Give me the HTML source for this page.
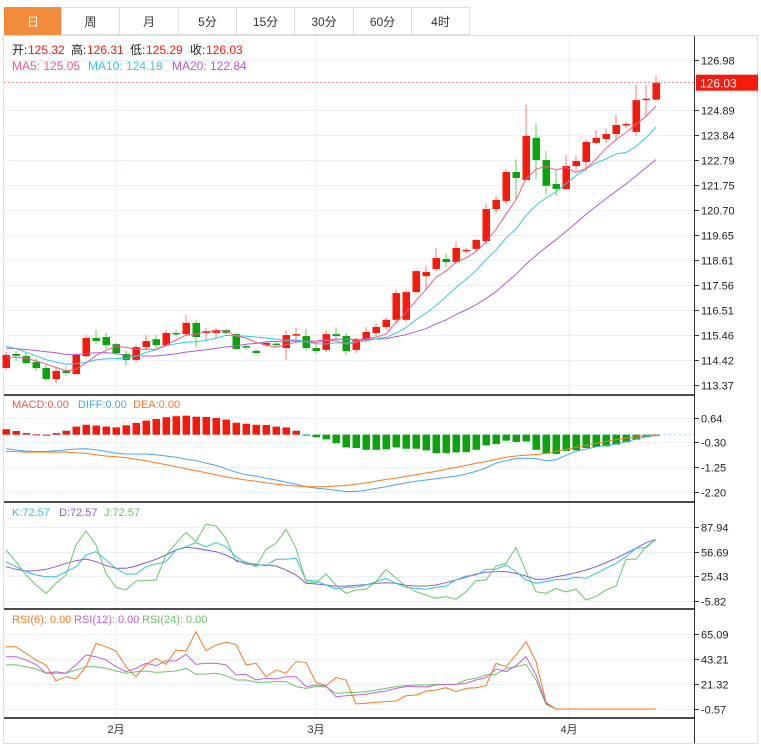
<!DOCTYPE html>
<html><head><meta charset="utf-8"><style>
body{margin:0;background:#fff;font-family:"Liberation Sans","Noto Sans CJK SC",sans-serif;}
#wrap{position:relative;width:761px;height:752px;overflow:hidden;}
.tab{position:absolute;top:7px;height:28px;line-height:28px;text-align:center;font-size:12px;color:#333;border:1px solid #ddd;box-sizing:border-box;background:#fff;}
.tab.on{background:#f28b3c;color:#fff;border-color:#f28b3c;}
svg text{font-family:"Liberation Sans","Noto Sans CJK SC",sans-serif;}
</style></head><body>
<div id="wrap">
<div class="tab on" style="left:4px;width:58px">日</div>
<div class="tab" style="left:61px;width:59px">周</div>
<div class="tab" style="left:119px;width:60px">月</div>
<div class="tab" style="left:178px;width:59px">5分</div>
<div class="tab" style="left:236px;width:59px">15分</div>
<div class="tab" style="left:294px;width:60px">30分</div>
<div class="tab" style="left:353px;width:59px">60分</div>
<div class="tab" style="left:411px;width:59px">4时</div>
<svg id="chart" width="761" height="752" style="position:absolute;left:0;top:0"></svg>
</div>
<script>
const opens=[114.08,114.67,114.58,114.33,114.08,113.62,113.96,113.83,114.58,115.34,115.38,115.08,114.67,114.42,114.96,115.29,115.04,115.55,115.50,115.97,115.55,115.55,115.67,115.50,115.00,114.80,115.04,115.10,114.92,115.46,115.42,114.92,114.84,115.50,115.42,114.84,115.25,115.55,115.80,116.10,116.10,117.26,117.93,118.23,118.65,118.52,118.98,119.07,119.40,120.74,121.08,122.29,121.96,123.72,122.79,121.79,121.58,122.54,122.71,123.51,123.67,123.88,124.26,123.97,125.32,125.32];
const closes=[114.63,114.59,114.29,114.08,113.62,113.96,113.87,114.63,115.34,115.21,115.04,114.71,114.42,114.96,115.21,115.04,115.55,115.50,115.97,115.38,115.63,115.67,115.55,114.88,114.96,114.71,115.13,115.04,115.46,115.50,114.92,114.79,115.50,115.42,114.79,115.25,115.59,115.80,116.10,117.22,117.26,118.14,118.10,118.69,118.52,119.11,119.03,119.44,120.74,121.12,122.29,122.04,123.80,122.79,121.71,121.58,122.54,122.75,123.55,123.72,123.88,124.26,124.30,125.30,125.36,126.03];
const highs=[114.75,114.80,114.75,114.50,114.20,114.08,114.15,114.70,115.46,115.67,115.55,115.13,114.80,115.04,115.46,115.46,115.67,115.67,116.30,116.10,115.76,115.76,115.72,115.55,115.10,114.85,115.20,115.15,115.67,115.76,115.72,115.10,115.67,115.80,115.55,115.34,115.80,115.97,116.18,117.35,117.35,118.18,118.35,119.11,118.85,119.35,119.10,119.50,120.98,121.30,122.39,122.82,125.11,124.30,123.17,122.37,123.00,123.00,123.63,124.05,124.10,124.68,124.40,125.93,125.93,126.31];
const lows=[114.00,114.38,114.20,113.95,113.55,113.45,113.75,113.80,114.50,115.08,114.88,114.63,114.17,114.33,114.84,114.92,114.96,115.42,115.46,114.96,115.25,115.30,115.50,114.84,114.85,114.67,114.95,114.95,114.42,115.20,114.80,114.67,114.75,115.30,114.63,114.71,115.13,115.40,115.70,116.00,116.00,117.20,117.35,118.14,118.30,118.44,118.90,119.00,119.25,120.57,120.94,121.12,121.96,122.00,121.33,121.29,121.54,122.33,122.33,123.47,123.51,123.63,124.10,123.80,124.60,125.29];
const priorCloses=[115.0,115.2,114.8,114.6,114.9,115.3,114.7,114.4,114.6,114.9,115.6,115.8,115.5,115.3,115.0,114.7,114.5,114.6,114.3];
const priceTicks=["126.98","124.89","123.84","122.79","121.75","120.70","119.65","118.61","117.56","116.51","115.46","114.42","113.37"];
const macdHist=[0.21,0.14,0.06,0.01,0,0.06,0.15,0.31,0.38,0.35,0.31,0.28,0.36,0.45,0.54,0.60,0.67,0.71,0.73,0.69,0.68,0.64,0.58,0.46,0.42,0.38,0.37,0.31,0.28,0.15,-0.01,-0.10,-0.18,-0.33,-0.49,-0.51,-0.58,-0.58,-0.56,-0.49,-0.54,-0.54,-0.60,-0.71,-0.71,-0.68,-0.67,-0.58,-0.41,-0.36,-0.23,-0.28,-0.26,-0.58,-0.73,-0.74,-0.62,-0.60,-0.51,-0.47,-0.45,-0.38,-0.29,-0.19,-0.10,-0.01];
const diffVals=[-0.54,-0.59,-0.63,-0.64,-0.64,-0.62,-0.59,-0.55,-0.54,-0.58,-0.64,-0.71,-0.74,-0.74,-0.74,-0.77,-0.82,-0.87,-0.94,-1.00,-1.09,-1.18,-1.31,-1.44,-1.54,-1.59,-1.67,-1.74,-1.82,-1.90,-2.00,-2.05,-2.09,-2.13,-2.18,-2.18,-2.13,-2.06,-2.00,-1.92,-1.85,-1.79,-1.74,-1.69,-1.64,-1.59,-1.51,-1.41,-1.28,-1.09,-1.00,-0.92,-0.90,-0.92,-1.00,-0.96,-0.79,-0.64,-0.55,-0.47,-0.41,-0.36,-0.26,-0.17,-0.08,-0.03];
const deaVals=[-0.64,-0.65,-0.67,-0.67,-0.67,-0.67,-0.67,-0.69,-0.72,-0.77,-0.82,-0.85,-0.88,-0.94,-1.00,-1.08,-1.15,-1.23,-1.31,-1.38,-1.46,-1.54,-1.62,-1.68,-1.74,-1.79,-1.85,-1.90,-1.94,-1.97,-2.00,-2.00,-2.00,-1.97,-1.95,-1.90,-1.85,-1.78,-1.72,-1.67,-1.60,-1.54,-1.47,-1.41,-1.33,-1.26,-1.18,-1.10,-1.03,-0.95,-0.87,-0.82,-0.79,-0.76,-0.72,-0.64,-0.56,-0.49,-0.41,-0.33,-0.26,-0.19,-0.13,-0.08,-0.03,0.00];
const macdTicks=["0.64","-0.30","-1.25","-2.20"];
const kVals=[44.0,37.7,31.4,27.1,25.0,25.0,31.4,37.7,52.5,56.7,46.1,35.6,28.4,28.4,37.7,41.1,44.0,58.8,63.0,68.1,63.0,68.1,63.0,50.4,41.9,41.1,38.5,47.0,47.0,48.3,20.8,19.5,14.5,9.4,11.5,11.5,14.5,18.7,22.9,16.6,11.5,10.2,9.0,11.5,13.2,20.8,25.9,27.1,34.3,34.3,39.8,31.4,20.8,16.6,18.7,21.6,21.6,24.2,22.9,29.2,35.6,41.9,50.4,60.9,61.8,72.3];
const dVals=[37.7,34.3,32.2,32.6,34.3,37.7,42.0,45.3,47.4,44.0,39.0,35.6,35.6,38.5,42.8,47.0,52.5,58.8,62.2,60.9,58.8,56.7,52.5,46.1,41.1,39.8,39.8,38.5,33.5,27.1,16.6,15.7,14.5,12.8,13.2,14.0,14.9,16.6,17.4,16.6,14.0,13.2,13.2,14.5,17.4,20.8,24.2,28.4,30.5,31.4,31.4,29.2,25.9,21.6,22.1,25.0,27.1,30.1,33.5,37.7,42.8,48.3,54.6,60.9,68.1,72.3];
const jVals=[58.8,44.0,27.1,14.5,3.9,16.6,27.1,65.1,82.9,65.1,29.2,11.5,8.1,19.5,20.0,20.8,52.5,67.3,81.2,69.4,91.7,89.2,73.6,44.0,44.0,37.7,59.6,67.3,85.0,60.9,18.7,17.4,28.4,14.5,3.9,8.1,9.0,18.7,34.3,22.9,13.2,6.0,1.8,-2.4,-0.3,-3.7,6.0,20.0,20.8,38.5,41.9,61.8,31.4,6.0,3.9,10.2,5.6,9.4,-4.5,-0.3,8.1,13.2,47.0,47.0,63.0,72.3];
const kdjTicks=["87.94","56.69","25.43","-5.82"];
const rsi6=[54.0,54.0,48.2,42.3,38.0,24.0,27.7,25.7,36.5,56.9,54.0,50.2,36.5,27.7,38.0,43.8,38.5,51.1,50.2,67.1,50.5,55.5,57.8,56.0,38.0,39.4,27.7,33.6,30.7,40.9,40.3,22.8,19.9,26.9,24.8,3.8,4.4,5.3,5.9,6.4,11.1,11.7,15.2,16.1,18.1,14.6,17.5,18.1,19.9,39.4,36.5,46.7,58.4,40.9,5.3,-0.6,-0.6,-0.6,-0.6,-0.6,-0.6,-0.6,-0.6,-0.6,-0.6,-0.6];
const rsi12=[45.2,45.2,42.3,38.5,30.7,32.1,30.7,38.0,46.7,45.2,42.3,36.5,32.1,35.0,39.4,37.4,41.5,41.5,47.3,38.5,39.4,39.4,38.0,29.2,29.8,24.8,26.3,25.7,27.7,27.7,19.0,20.4,19.6,10.2,11.1,11.7,12.3,14.0,15.2,17.5,19.0,19.0,18.7,20.4,21.0,21.0,21.9,24.8,26.9,34.5,32.1,37.4,45.2,29.2,4.4,-0.6,-0.6,-0.6,-0.6,-0.6,-0.6,-0.6,-0.6,-0.6,-0.6,-0.6];
const rsi24=[38.0,38.0,36.5,34.5,30.7,30.7,30.7,33.6,36.5,36.5,35.0,32.7,30.7,32.1,32.7,31.5,32.1,32.7,35.0,29.8,30.1,30.7,28.6,24.8,24.8,22.8,22.8,23.4,23.4,19.0,17.5,19.0,18.7,13.1,13.7,14.0,14.6,16.1,17.5,19.0,19.9,20.4,20.4,21.0,21.0,21.0,24.8,26.3,29.2,29.8,35.0,36.5,38.5,24.8,3.5,-0.6,-0.6,-0.6,-0.6,-0.6,-0.6,-0.6,-0.6,-0.6,-0.6,-0.6];
const rsiTicks=["65.09","43.21","21.32","-0.57"];
const monthLabels=["2月","3月","4月"];
const monthIdx=[11,31,56.3];

const NS="http://www.w3.org/2000/svg";
const svg=document.getElementById('chart');
function mk(tag,attrs,parent){const e=document.createElementNS(NS,tag);for(const k in attrs)e.setAttribute(k,attrs[k]);(parent||svg).appendChild(e);return e;}
const RED="#f51a0c",GREEN="#0ca40c";
const xOf=i=>6+10*i;
const AX=694;
function lin(v0,y0,v1,y1){return v=>y0+(v-v0)*(y1-y0)/(v1-v0);}
const yP=lin(126.98,60,113.37,385);
const yM=lin(0.64,418,-2.20,492);
const yK=lin(87.94,527,-5.82,601);
const yR=lin(65.09,634,-0.57,709);

const fr=mk('rect',{x:3.5,y:35.5,width:754,height:708,fill:'none',stroke:'#ddd'});


monthIdx.forEach((mi,k)=>{
  const x=xOf(mi);
  const g=mk('line',{x1:x,x2:x,y1:36,y2:718,stroke:'#e8eff6'});
  
  
  const t=mk('text',{x:x,y:733,'font-size':11,fill:'#333','text-anchor':'middle'});
  t.textContent=monthLabels[k];
  
  
});
function hTicks(labels,yf,name){
  labels.forEach(l=>{
    const y=Math.round(yf(parseFloat(l)))+0.5;
    const g=mk('line',{x1:4,x2:AX,y1:y,y2:y,stroke:'#e8eff6'});
    
    
    mk('line',{x1:AX,x2:AX+5,y1:y,y2:y,stroke:'#333'});
    const t=mk('text',{x:AX+7,y:y+4,'font-size':11,fill:'#222'});
    t.textContent=l;
    
    
  });
}
hTicks(priceTicks,yP,'price-axis');
hTicks(macdTicks,yM,'macd-axis');
hTicks(kdjTicks,yK,'kdj-axis');
hTicks(rsiTicks,yR,'rsi-axis');
mk('line',{x1:AX+0.5,x2:AX+0.5,y1:36,y2:743,stroke:'#333'});
[395,502,609,718].forEach(y=>{
  const s=mk('line',{x1:4,x2:AX+1,y1:y,y2:y,stroke:'#111','stroke-width':1.5});
  
  
});

const all=priorCloses.concat(closes);
function ma(n){return closes.map((c,i)=>{const j=i+priorCloses.length;let s=0;for(let k=j-n+1;k<=j;k++)s+=all[k];return s/n;});}
function poly(vals,yf,color,name,w){
  const pts=vals.map((v,i)=>xOf(i)+','+yf(v).toFixed(1)).join(' ');
  const p=mk('polyline',{points:pts,fill:'none',stroke:color,'stroke-width':w||1});
  
  
}
closes.forEach((c,i)=>{
  const o=opens[i],up=c>=o,col=up?RED:GREEN,x=xOf(i);
  const g=mk('g',{});
  
  
  mk('line',{x1:x,x2:x,y1:yP(highs[i]),y2:yP(lows[i]),stroke:up?'#f87a70':'#5fcb5f'},g);
  const top=yP(Math.max(o,c)),bot=yP(Math.min(o,c));
  mk('rect',{x:x-3.5,y:top,width:7.5,height:Math.max(1.5,bot-top),fill:col},g);
});
poly(ma(20),yP,'#b25ad2','ma20-line');
poly(ma(10),yP,'#35c6e0','ma10-line');
poly(ma(5),yP,'#f05a8a','ma5-line');
const lastY=yP(closes[closes.length-1]);
mk('line',{x1:4,x2:AX,y1:lastY,y2:lastY,stroke:'#f5837a','stroke-dasharray':'2,2'});
const pb=mk('rect',{x:AX+2,y:lastY-8,width:62,height:16,fill:RED});


const pt=mk('text',{x:AX+6,y:lastY+5,'font-size':12,fill:'#fff'});
pt.textContent=closes[closes.length-1].toFixed(2);

mk('line',{x1:4,x2:AX,y1:yM(0),y2:yM(0),stroke:'#a8d4f4','stroke-dasharray':'2,3'});
macdHist.forEach((v,i)=>{
  const y0=yM(0),y1=yM(v);
  const r=mk('rect',{x:xOf(i)-3.5,y:Math.min(y0,y1),width:7.5,height:Math.max(1,Math.abs(y1-y0)),fill:v>=0?RED:GREEN});
  
  
});
poly(diffVals,yM,'#4aa5f0','diff-line');
poly(deaVals,yM,'#f57a20','dea-line');
poly(dVals,yK,'#8b5ad6','kdj-d-line');
poly(kVals,yK,'#2fc4e0','kdj-k-line');
poly(jVals,yK,'#6cc36a','kdj-j-line');
poly(rsi24,yR,'#6cc36a','rsi24-line');
poly(rsi12,yR,'#c060d8','rsi12-line');
poly(rsi6,yR,'#f57a20','rsi6-line');

function txt(x,y,s,col,name,size){const t=mk('text',{x:x,y:y,'font-size':size||11,fill:col});t.textContent=s;return t;}
txt(12,54,'开:','#222','open-label',12);txt(28,54,'125.32',RED,'open-value',12);
txt(71,54,'高:','#222','high-label',12);txt(87,54,'126.31',RED,'high-value',12);
txt(130,54,'低:','#222','low-label',12);txt(146,54,'125.29',RED,'low-value',12);
txt(190,54,'收:','#222','close-label',12);txt(206,54,'126.03',RED,'close-value',12);
txt(12,70,'MA5: 125.05','#f05a8a','ma5-legend',12);
txt(88,70,'MA10: 124.18','#35c6e0','ma10-legend',12);
txt(172,70,'MA20: 122.84','#b25ad2','ma20-legend',12);
txt(12,408,'MACD:0.00','#f05a4a','macd-legend');
txt(78,408,'DIFF:0.00','#4aa5f0','diff-legend');
txt(133,408,'DEA:0.00','#f57a20','dea-legend');
txt(12,516,'K:72.57','#2fc4e0','k-legend');
txt(59,516,'D:72.57','#8b5ad6','d-legend');
txt(104,516,'J:72.57','#6cc36a','j-legend');
txt(12,623,'RSI(6): 0.00','#f57a20','rsi6-legend');
txt(74,623,'RSI(12): 0.00','#c060d8','rsi12-legend');
txt(142,623,'RSI(24): 0.00','#6cc36a','rsi24-legend');
</script>
</body></html>
